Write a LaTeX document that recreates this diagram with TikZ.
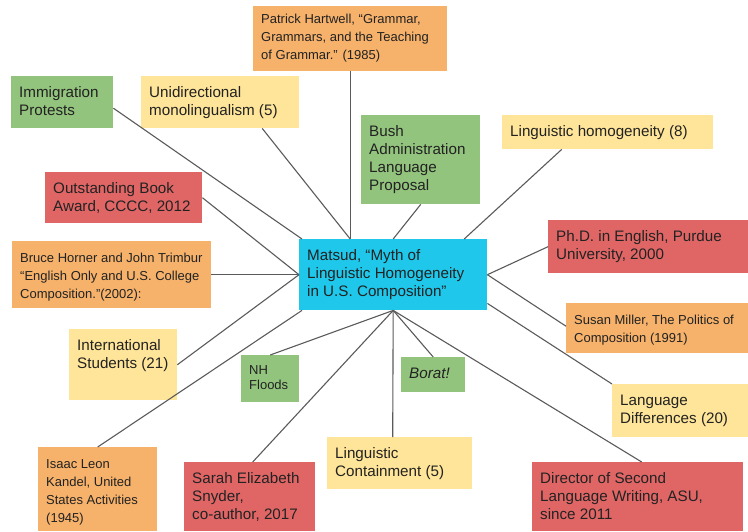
\documentclass[tikz,border=0pt]{standalone}
\usepackage{fontspec}
\setmainfont{Liberation Sans}
\usetikzlibrary{calc}
\definecolor{gcyan}{HTML}{1FC8EA}
\definecolor{ggreen}{HTML}{93C47D}
\definecolor{gyellow}{HTML}{FFE599}
\definecolor{gorange}{HTML}{F6B26B}
\definecolor{gred}{HTML}{E06666}
\definecolor{linegray}{HTML}{5A5A5A}
\definecolor{ink}{HTML}{222222}
% text block of a card: width and height in pt, text at the top
\newcommand{\cardtext}[3]{\parbox[t][\dimexpr#2pt-18pt\relax][t]{#1pt}{\raggedright\leftskip=8pt\strut#3}}
\tikzset{
    link/.style={
      draw=linegray, line width=1.1pt},
    card/.style={
      rectangle,
      anchor=north west,
      inner xsep=0pt, inner ysep=9pt,
      text=ink,
      font=\fontsize{15.2}{18}\selectfont},
    smalltext/.style={
      font=\fontsize{13}{18}\selectfont},
    hub/.style={card, fill=gcyan},
    event/.style={card, fill=ggreen},
    theme/.style={card, fill=gyellow},
    source/.style={card, fill=gorange, smalltext},
    career/.style={card, fill=gred}
}
\begin{document}
\begin{tikzpicture}[x=1pt,y=-1pt]
    \useasboundingbox (0,0) rectangle (748,531);
    % centre
    \node (matsud) [hub] at (299,239)
          {\cardtext{188}{71}{Matsud, “Myth of\\Linguistic Homogeneity\\in U.S. Composition”}};
    % top row
    \node (hart) [source, inner ysep=5pt] at (253,6)
          {\cardtext{194}{73}{Patrick Hartwell, “Grammar,\\Grammars, and the Teaching\\of Grammar.” (1985)}};
    \node (imm) [event] at (11,76)
          {\cardtext{102}{52}{Immigration\\Protests}};
    \node (uni) [theme] at (141,76)
          {\cardtext{158}{52}{Unidirectional\\monolingualism (5)}};
    \node (bush) [event] at (361,115)
          {\cardtext{119}{89}{Bush\\Administration\\Language\\Proposal}};
    \node (homog) [theme] at (502,115)
          {\cardtext{211}{34}{Linguistic homogeneity (8)}};
    % left side
    \node (award) [career] at (45,172)
          {\cardtext{157}{51}{Outstanding Book\\Award, CCCC, 2012}};
    \node (horner) [source] at (12,241)
          {\cardtext{199}{67}{Bruce Horner and John Trimbur\\“English Only and U.S. College\\Composition.”(2002):}};
    \node (intl) [theme] at (69,329)
          {\cardtext{108}{71}{International\\Students (21)}};
    % right side
    \node (phd) [career] at (548,220)
          {\cardtext{200}{53}{Ph.D. in English, Purdue\\University, 2000}};
    \node (susan) [source] at (566,303)
          {\cardtext{182}{50}{Susan Miller, The Politics of\\Composition (1991)}};
    \node (langdiff) [theme] at (612,384)
          {\cardtext{136}{53}{Language\\Differences (20)}};
    % bottom row
    \node (nh) [event, font=\fontsize{13}{15}\selectfont] at (241,355)
          {\cardtext{58}{47}{NH\\Floods}};
    \node (borat) [event] at (401,357)
          {\cardtext{64}{35}{\textit{Borat!}}};
    \node (contain) [theme] at (327,437)
          {\cardtext{145}{52}{Linguistic\\Containment (5)}};
    \node (kandel) [source] at (38,447)
          {\cardtext{119}{84}{Isaac Leon\\Kandel, United\\States Activities\\(1945)}};
    \node (snyder) [career] at (184,462)
          {\cardtext{131}{69}{Sarah Elizabeth\\Snyder,\\co-author, 2017}};
    \node (director) [career] at (532,462)
          {\cardtext{211}{69}{Director of Second\\Language Writing, ASU,\\since 2011}};
    % links to the centre
    \draw [link] (hart.south) -- ([xshift=-43pt]matsud.north);
    \draw [link] ([xshift=42pt]uni.south) -- ([xshift=-43pt]matsud.north);
    \draw [link] ([yshift=-6pt]imm.east) -- ([xshift=3pt]matsud.north west);
    \draw [link] (bush.south) -- (matsud.north);
    \draw [link] ([xshift=-46pt]homog.south) -- ([xshift=71pt]matsud.north);
    \draw [link] (award.east) -- (matsud.west);
    \draw [link] (horner.east) -- (matsud.west);
    \draw [link] (intl.east) -- (matsud.west);
    \draw [link] (kandel.north) -- ([xshift=3pt]matsud.south west);
    \draw [link] (nh.north) -- (matsud.south);
    \draw [link] ([xshift=3pt]snyder.north) -- (matsud.south);
    \draw [link] ([xshift=-7pt]contain.north) -- (matsud.south);
    \draw [link] (borat.north) -- (matsud.south);
    \draw [link] ([xshift=4pt]director.north) -- (matsud.south);
    \draw [link] (langdiff.north west) -- ([yshift=7pt]matsud.south east);
    \draw [link] ([yshift=2pt]susan.west) -- (matsud.east);
    \draw [link] (phd.west) -- (matsud.east);
\end{tikzpicture}
\end{document}
